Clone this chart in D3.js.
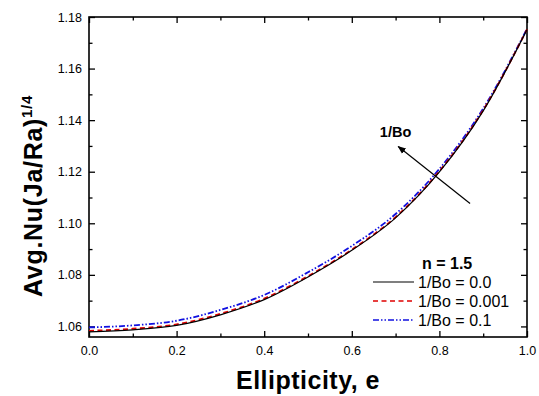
<!DOCTYPE html>
<html>
<head>
<meta charset="utf-8">
<script src="https://cdn.jsdelivr.net/npm/d3@7"></script>
<style>
  body { margin: 0; background: #fff; }
  svg { display: block; font-family: "Liberation Sans", Arial, sans-serif; }
</style>
</head>
<body>
<svg id="chart"></svg>
<script>
// ellipticity values
const eVals = [0.0, 0.1, 0.2, 0.3, 0.4, 0.5, 0.6, 0.7, 0.8, 0.9, 1.0];
// Avg.Nu(Ja/Ra)^1/4 for each 1/Bo
const nuBo0   = [1.0579, 1.0587, 1.0604, 1.0645, 1.0704, 1.0792, 1.0895, 1.1021, 1.1199, 1.1436, 1.1751];
const nuBo001 = [1.0583, 1.0591, 1.0608, 1.0649, 1.0708, 1.0795, 1.0898, 1.1024, 1.1202, 1.1439, 1.1752];
const nuBo01  = [1.0596, 1.0604, 1.0622, 1.0664, 1.0722, 1.0810, 1.0912, 1.1036, 1.1211, 1.1445, 1.1754];

const seriesNames = ["1/Bo = 0.0", "1/Bo = 0.001", "1/Bo = 0.1"];
const xTicks = [0.0, 0.2, 0.4, 0.6, 0.8, 1.0];
const xMinor = [0.1, 0.3, 0.5, 0.7, 0.9];
const yTicks = [1.06, 1.08, 1.10, 1.12, 1.14, 1.16, 1.18];
const yMinor = [1.07, 1.09, 1.11, 1.13, 1.15, 1.17];

const width = 539, height = 396;
const margin = {top: 17, right: 12, bottom: 59, left: 89};

const svg = d3.select("#chart")
    .attr("width", width)
    .attr("height", height);

const x = d3.scaleLinear().domain([0, 1]).range([margin.left, width - margin.right]);
const y = d3.scaleLinear().domain([1.0559, 1.18]).range([height - margin.bottom, margin.top]);

const fmt = d3.format(".1f");
const fmtY = d3.format(".2f");

// axes, ticks pointing inside
function styleAxis(g) {
    g.select(".domain").remove();
    g.selectAll("line").attr("stroke", "#000").attr("stroke-width", 1.3);
    g.selectAll("text").attr("fill", "#000").style("font-size", "12.5px");
}

svg.append("g")
    .attr("transform", `translate(0,${height - margin.bottom})`)
    .call(d3.axisBottom(x).tickValues(xTicks).tickFormat(fmt).tickSize(-6).tickPadding(9))
    .call(styleAxis);
svg.append("g")
    .attr("transform", `translate(0,${height - margin.bottom})`)
    .call(d3.axisBottom(x).tickValues(xMinor).tickFormat("").tickSize(-3.5))
    .call(styleAxis);
svg.append("g")
    .attr("transform", `translate(0,${margin.top})`)
    .call(d3.axisTop(x).tickValues(xTicks).tickFormat("").tickSize(-6))
    .call(styleAxis);
svg.append("g")
    .attr("transform", `translate(0,${margin.top})`)
    .call(d3.axisTop(x).tickValues(xMinor).tickFormat("").tickSize(-3.5))
    .call(styleAxis);

svg.append("g")
    .attr("transform", `translate(${margin.left},0)`)
    .call(d3.axisLeft(y).tickValues(yTicks).tickFormat(fmtY).tickSize(-6).tickPadding(7))
    .call(styleAxis);
svg.append("g")
    .attr("transform", `translate(${margin.left},0)`)
    .call(d3.axisLeft(y).tickValues(yMinor).tickFormat("").tickSize(-3.5))
    .call(styleAxis);
svg.append("g")
    .attr("transform", `translate(${width - margin.right},0)`)
    .call(d3.axisRight(y).tickValues(yTicks).tickFormat("").tickSize(-6))
    .call(styleAxis);
svg.append("g")
    .attr("transform", `translate(${width - margin.right},0)`)
    .call(d3.axisRight(y).tickValues(yMinor).tickFormat("").tickSize(-3.5))
    .call(styleAxis);

// frame
svg.append("rect")
    .attr("x", x(0)).attr("y", y(1.18))
    .attr("width", x(1) - x(0)).attr("height", y.range()[0] - y(1.18))
    .attr("fill", "none").attr("stroke", "#000").attr("stroke-width", 1.6);

// curves
const styles = [
    {color: "#000", dash: null, w: 1.2},
    {color: "#e00000", dash: "5,3.5", w: 1.8},
    {color: "#1010e0", dash: "6,2,1.5,2,1.5,2", w: 1.8}
];
const allSeries = [nuBo0, nuBo001, nuBo01];

const line = d3.line()
    .x((d, i) => x(eVals[i]))
    .y(d => y(d))
    .curve(d3.curveMonotoneX);

// draw blue first, black on top
[2, 1, 0].forEach(k => {
    svg.append("path")
        .datum(allSeries[k])
        .attr("d", line)
        .attr("fill", "none")
        .attr("stroke", styles[k].color)
        .attr("stroke-width", styles[k].w)
        .attr("stroke-dasharray", styles[k].dash);
});

// arrow with label
svg.append("defs").append("marker")
    .attr("id", "arr")
    .attr("viewBox", "0 0 10 10")
    .attr("refX", 9).attr("refY", 5)
    .attr("markerWidth", 7).attr("markerHeight", 7)
    .attr("orient", "auto")
    .append("path").attr("d", "M0,1 L10,5 L0,9 Z").attr("fill", "#000");

svg.append("line")
    .attr("x1", x(0.870)).attr("y1", y(1.1077))
    .attr("x2", x(0.706)).attr("y2", y(1.1298))
    .attr("stroke", "#000").attr("stroke-width", 1.2)
    .attr("marker-end", "url(#arr)");

svg.append("text")
    .attr("x", x(0.664)).attr("y", 137)
    .style("font-size", "14.5px").style("font-weight", "bold")
    .text("1/Bo");

// legend
const legX = 373, legY = 282, legStep = 19;
svg.append("text")
    .attr("x", 422).attr("y", legY - 13)
    .style("font-size", "16px").style("font-weight", "bold")
    .text("n = 1.5");

seriesNames.forEach((name, k) => {
    const yy = legY + k * legStep;
    svg.append("line")
        .attr("x1", legX).attr("x2", legX + 41)
        .attr("y1", yy).attr("y2", yy)
        .attr("stroke", styles[k].color)
        .attr("stroke-width", k === 0 ? 1.2 : 1.4)
        .attr("stroke-dasharray", styles[k].dash);
    svg.append("text")
        .attr("x", legX + 45).attr("y", yy + 5.5)
        .style("font-size", "16px")
        .text(name);
});

// axis titles
svg.append("text")
    .attr("x", (x(0) + x(1)) / 2).attr("y", 389)
    .attr("text-anchor", "middle")
    .style("font-size", "25px").style("font-weight", "bold")
    .style("letter-spacing", "0.5px")
    .text("Ellipticity, e");

const yt = svg.append("text")
    .attr("transform", "translate(42,297) rotate(-90)")
    .style("font-size", "25px").style("font-weight", "bold")
    .style("letter-spacing", "0.7px");
yt.append("tspan").text("Avg.Nu(Ja/Ra)");
yt.append("tspan").attr("dy", -10).style("font-size", "15px").text("1/4");
</script>
</body>
</html>
